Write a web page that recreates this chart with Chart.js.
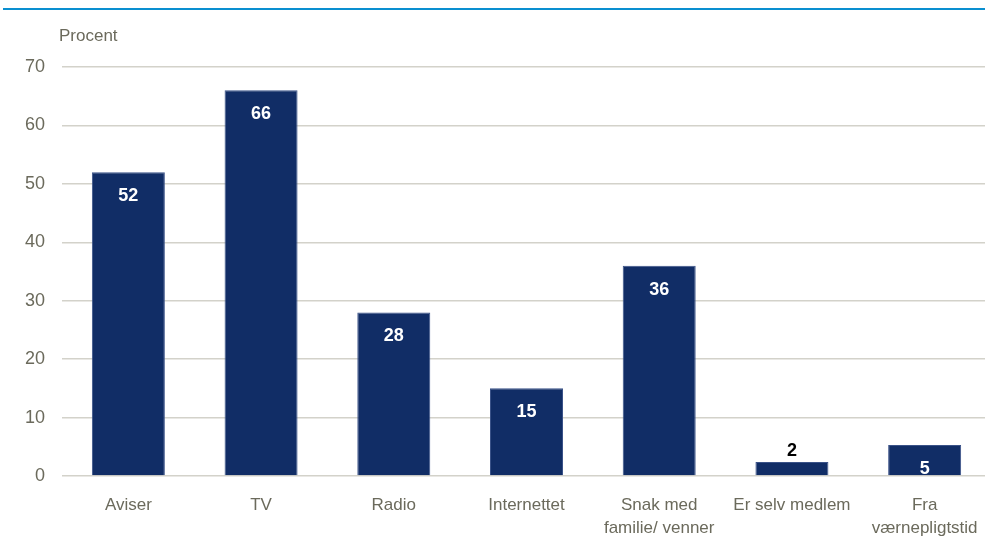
<!DOCTYPE html>
<html>
<head>
<meta charset="utf-8">
<script src="https://cdn.jsdelivr.net/npm/chart.js@4"></script>
<style>
  html, body { margin: 0; padding: 0; overflow: hidden; background: #fff; }
  #wrap { position: relative; width: 992px; height: 540px; }
  #topline { position: absolute; left: 3px; top: 8px; width: 990px; height: 2px; background: #0a8fd0; }
</style>
</head>
<body>
<div id="wrap">
  <div id="topline"></div>
  <canvas id="chart" width="992" height="540"></canvas>
</div>
<script>
// categories and values
const categories = ['Aviser', 'TV', 'Radio', 'Internettet', ['Snak med', 'familie/ venner'], 'Er selv medlem', ['Fra', 'værnepligtstid']];
const values = [52, 66, 28, 15, 36, 2.4, 5.3];
const labels = ['52', '66', '28', '15', '36', '2', '5'];
const yTicks = [0, 10, 20, 30, 40, 50, 60, 70];

const fontFam = "'Liberation Sans', Arial, sans-serif";
const tickColor = '#6b6a5c';

// draws the value labels and the "Procent" unit text
const labelPlugin = {
    id: 'barLabels',
    afterDatasetsDraw(chart) {
        const ctx = chart.ctx;
        const meta = chart.getDatasetMeta(0);
        ctx.save();
        ctx.textAlign = 'center';
        ctx.textBaseline = 'middle';
        ctx.font = 'bold 18px ' + fontFam;
        meta.data.forEach((bar, i) => {
            const h = bar.base - bar.y;
            if (h < 28) {
                ctx.fillStyle = '#000';
                ctx.fillText(labels[i], bar.x, bar.y - 11);
            } else {
                ctx.fillStyle = '#fff';
                ctx.fillText(labels[i], bar.x, bar.y + 24);
            }
        });
        ctx.font = '17px ' + fontFam;
        ctx.fillStyle = tickColor;
        ctx.textAlign = 'left';
        ctx.fillText('Procent', 59, 36);
        ctx.restore();
    }
};

new Chart(document.getElementById('chart'), {
    type: 'bar',
    data: {
        labels: categories,
        datasets: [{
            data: values,
            backgroundColor: '#112d66',
            borderColor: '#3a5288',
            borderWidth: 1,
            barPercentage: 0.55,
            categoryPercentage: 1
        }]
    },
    options: {
        responsive: false,
        animation: false,
        layout: { padding: { top: 67, right: 1, left: 0, bottom: 0 } },
        plugins: { legend: { display: false }, tooltip: { enabled: false } },
        scales: {
            x: {
                grid: { display: false },
                border: { display: false },
                ticks: { color: tickColor, font: { family: fontFam, size: 17, lineHeight: 1.35 }, padding: 10, maxRotation: 0, autoSkip: false },
                afterFit(scale) { scale.height = 64; }
            },
            y: {
                min: 0,
                max: 70,
                afterBuildTicks(scale) { scale.ticks = yTicks.map(v => ({ value: v })); },
                grid: { color: '#d3d2ca', lineWidth: 1.5, drawTicks: false },
                border: { display: false },
                ticks: { color: tickColor, font: { family: fontFam, size: 18 }, padding: 17 },
                afterFit(scale) { scale.width = 62; }
            }
        }
    },
    plugins: [labelPlugin]
});
</script>
</body>
</html>
